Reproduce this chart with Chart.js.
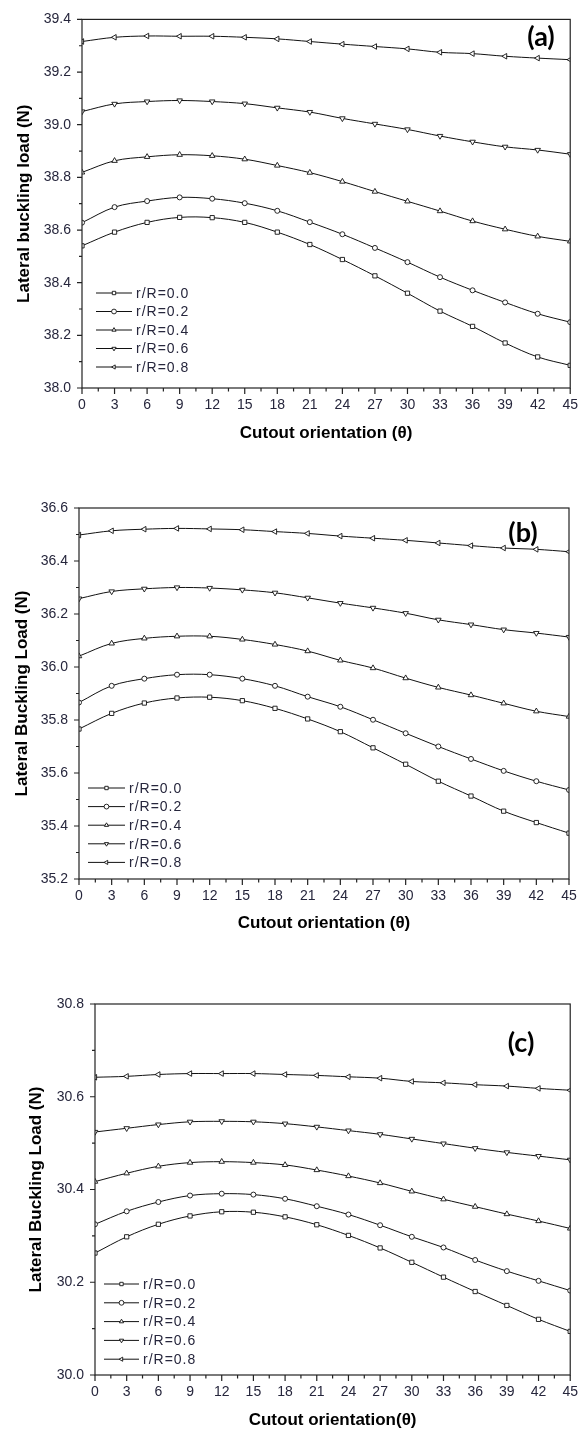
<!DOCTYPE html>
<html lang="en">
<head>
<meta charset="UTF-8">
<title>Lateral buckling load vs cutout orientation</title>
<script src="https://cdn.jsdelivr.net/npm/chart.js"></script>
<style>
  body { margin: 0; padding: 0; background: #fff; width: 587px; height: 1429px; position: relative; overflow: hidden; }
  canvas { position: absolute; left: 0; }
  #chartA { top: 0; }
  #chartB { top: 460px; }
  #chartC { top: 960px; }
</style>
</head>
<body>
<canvas id="chartA" width="587" height="450"></canvas>
<canvas id="chartB" width="587" height="490"></canvas>
<canvas id="chartC" width="587" height="469"></canvas>
<script>
const theta = [0, 3, 6, 9, 12, 15, 18, 21, 24, 27, 30, 33, 36, 39, 42, 45];
const ratioLabels = ['r/R=0.0', 'r/R=0.2', 'r/R=0.4', 'r/R=0.6', 'r/R=0.8'];

// panel (a)
const a00 = [38.540, 38.592, 38.629, 38.648, 38.647, 38.629, 38.592, 38.545, 38.488, 38.426, 38.360, 38.292, 38.234, 38.171, 38.118, 38.086];
const a02 = [38.628, 38.687, 38.710, 38.724, 38.719, 38.702, 38.673, 38.630, 38.584, 38.532, 38.478, 38.421, 38.371, 38.325, 38.282, 38.250];
const a04 = [38.819, 38.863, 38.878, 38.886, 38.882, 38.869, 38.845, 38.818, 38.784, 38.746, 38.709, 38.672, 38.634, 38.603, 38.576, 38.557];
const a06 = [39.050, 39.079, 39.088, 39.092, 39.088, 39.080, 39.064, 39.048, 39.024, 39.003, 38.982, 38.957, 38.935, 38.916, 38.904, 38.888];
const a08 = [39.316, 39.332, 39.337, 39.336, 39.336, 39.332, 39.326, 39.316, 39.306, 39.297, 39.288, 39.275, 39.270, 39.260, 39.253, 39.247];

// panel (b)
const b00 = [35.766, 35.825, 35.864, 35.883, 35.886, 35.873, 35.844, 35.804, 35.756, 35.695, 35.633, 35.569, 35.513, 35.456, 35.413, 35.373];
const b02 = [35.866, 35.929, 35.956, 35.971, 35.971, 35.956, 35.929, 35.888, 35.850, 35.801, 35.750, 35.700, 35.653, 35.608, 35.569, 35.536];
const b04 = [36.041, 36.089, 36.108, 36.116, 36.116, 36.104, 36.085, 36.060, 36.025, 35.996, 35.958, 35.923, 35.894, 35.863, 35.833, 35.813];
const b06 = [36.258, 36.285, 36.295, 36.300, 36.298, 36.291, 36.280, 36.261, 36.241, 36.223, 36.203, 36.178, 36.160, 36.141, 36.128, 36.113];
const b08 = [36.498, 36.514, 36.520, 36.523, 36.521, 36.518, 36.511, 36.504, 36.494, 36.486, 36.478, 36.468, 36.458, 36.449, 36.444, 36.435];

// panel (c)
const c00 = [30.263, 30.298, 30.325, 30.343, 30.352, 30.351, 30.341, 30.324, 30.301, 30.274, 30.243, 30.211, 30.180, 30.150, 30.120, 30.094];
const c02 = [30.325, 30.353, 30.373, 30.387, 30.391, 30.389, 30.380, 30.364, 30.346, 30.323, 30.298, 30.275, 30.248, 30.224, 30.203, 30.182];
const c04 = [30.417, 30.435, 30.450, 30.458, 30.460, 30.458, 30.453, 30.442, 30.429, 30.414, 30.396, 30.379, 30.363, 30.347, 30.332, 30.316];
const c06 = [30.524, 30.532, 30.540, 30.546, 30.547, 30.546, 30.542, 30.535, 30.527, 30.519, 30.509, 30.499, 30.489, 30.480, 30.472, 30.464];
const c08 = [30.642, 30.644, 30.648, 30.650, 30.650, 30.650, 30.648, 30.646, 30.643, 30.640, 30.633, 30.630, 30.626, 30.623, 30.618, 30.614];

Chart.defaults.font.family = "'Liberation Sans', Arial, sans-serif";

const ink = '#111';
const labelInk = '#26263c';
const titleSize = 17;
const markers = [
    { style: 'rect', rot: 0, r: 3 },
    { style: 'circle', rot: 0, r: 2.5 },
    { style: 'triangle', rot: 0, r: 3.2 },
    { style: 'triangle', rot: 180, r: 3.2 },
    { style: 'triangle', rot: 270, r: 3.2 }
];

// same shapes as chart.js points, for the legend
function drawMarker(ctx, m, x, y, r) {
    ctx.beginPath();
    if (m.style === 'rect') {
        const s = r * Math.SQRT1_2;
        ctx.rect(x - s, y - s, 2 * s, 2 * s);
    } else if (m.style === 'circle') {
        ctx.arc(x, y, r, 0, Math.PI * 2);
    } else {
        let a = m.rot * Math.PI / 180;
        for (let k = 0; k < 3; k++) {
            const px = x + Math.sin(a) * r, py = y - Math.cos(a) * r;
            k === 0 ? ctx.moveTo(px, py) : ctx.lineTo(px, py);
            a += Math.PI * 2 / 3;
        }
        ctx.closePath();
    }
    ctx.fillStyle = '#fff';
    ctx.fill();
    ctx.strokeStyle = ink;
    ctx.lineWidth = 0.9;
    ctx.stroke();
}

function panelDecor(box) {
    return {
        id: 'panelDecor',
        afterDraw(chart) {
            const { ctx, chartArea: ca } = chart;
            const xs = chart.scales.x, ys = chart.scales.y;
            ctx.save();
            // frame
            ctx.strokeStyle = '#222';
            ctx.lineWidth = 1.2;
            ctx.strokeRect(ca.left, ca.top, ca.right - ca.left, ca.bottom - ca.top);
            // outward ticks, major + minor
            ctx.beginPath();
            const nY = Math.round((ys.max - ys.min) / 0.1);
            for (let k = 0; k <= nY; k++) {
                const py = ys.getPixelForValue(ys.min + k * 0.1);
                const len = k % 2 === 0 ? 5 : 3;
                ctx.moveTo(ca.left - len, py);
                ctx.lineTo(ca.left, py);
            }
            for (let k = 0; k <= 30; k++) {
                const px = xs.getPixelForValue(k * 1.5);
                const len = k % 2 === 0 ? 6 : 3.5;
                ctx.moveTo(px, ca.bottom);
                ctx.lineTo(px, ca.bottom + len);
            }
            ctx.stroke();
            // legend: line with marker
            ctx.font = "14px 'Liberation Sans', Arial, sans-serif";
            ctx.letterSpacing = '1px';
            ctx.textBaseline = 'middle';
            chart.data.datasets.forEach((ds, i) => {
                const y = box.legY + i * box.legDy;
                ctx.beginPath();
                ctx.strokeStyle = ink;
                ctx.lineWidth = 1;
                ctx.moveTo(box.legX1, y);
                ctx.lineTo(box.legX2, y);
                ctx.stroke();
                drawMarker(ctx, markers[i], (box.legX1 + box.legX2) / 2, y, 2.4);
                ctx.fillStyle = labelInk;
                ctx.fillText(ds.label, box.legX2 + 4, y + 1);
            });
            ctx.letterSpacing = '0px';
            // panel tag
            ctx.font = "bold 27px Lato, 'Open Sans', sans-serif";
            ctx.fillStyle = '#000';
            ctx.textAlign = 'center';
            ctx.fillText(box.tag, box.tagX, box.tagY);
            ctx.restore();
        }
    };
}

function drawPanel(id, series, yMin, yMax, yTitle, xTitle, box) {
    const canvas = document.getElementById(id);
    const W = canvas.width, H = canvas.height;
    const titleLH = titleSize * 1.2;
    const padLeft = box.yTitleX - titleLH / 2;
    const padBottom = H - box.xTitleY - titleLH / 2;

    const datasets = series.map((vals, i) => ({
        label: ratioLabels[i],
        data: theta.map((t, j) => ({ x: t, y: vals[j] })),
        borderColor: ink,
        borderWidth: 1,
        tension: 0.35,
        fill: false,
        pointStyle: markers[i].style,
        pointRotation: markers[i].rot,
        pointRadius: markers[i].r,
        pointBackgroundColor: '#fff',
        pointBorderColor: ink,
        pointBorderWidth: 0.9
    }));

    new Chart(canvas, {
        type: 'line',
        data: { datasets: datasets },
        options: {
            responsive: false,
            animation: false,
            layout: { padding: { left: padLeft, top: box.t, right: W - box.r, bottom: padBottom } },
            plugins: { legend: { display: false }, tooltip: { enabled: false } },
            scales: {
                x: {
                    type: 'linear', min: 0, max: 45,
                    grid: { display: false, drawTicks: false },
                    border: { display: false },
                    ticks: { stepSize: 3, padding: 9, color: labelInk, font: { size: 14 }, maxRotation: 0 },
                    title: { display: true, text: xTitle, color: '#000', padding: 0, font: { size: titleSize, weight: 'bold' } },
                    afterFit: s => { s.height = H - padBottom - box.b; }
                },
                y: {
                    type: 'linear', min: yMin, max: yMax,
                    grid: { display: false, drawTicks: false },
                    border: { display: false },
                    ticks: { stepSize: 0.2, padding: 11, color: labelInk, font: { size: 14 },
                             callback: v => v.toFixed(1) },
                    title: { display: true, text: yTitle, color: '#000', padding: 0, font: { size: titleSize, weight: 'bold' } },
                    afterFit: s => { s.width = box.l - padLeft; }
                }
            }
        },
        plugins: [panelDecor(box)]
    });
}

drawPanel('chartA', [a00, a02, a04, a06, a08], 38.0, 39.4,
    'Lateral buckling load (N)', 'Cutout orientation (\u03b8)',
    { l: 82, r: 572, t: 16, b: 388, xTitleY: 433, yTitleX: 24,
      legX1: 96, legX2: 132, legY: 293, legDy: 18.5, tag: '(a)', tagX: 541, tagY: 37 });

drawPanel('chartB', [b00, b02, b04, b06, b08], 35.2, 36.6,
    'Lateral Buckling Load (N)', 'Cutout orientation (\u03b8)',
    { l: 79, r: 569, t: 48, b: 419, xTitleY: 463, yTitleX: 22,
      legX1: 88, legX2: 125, legY: 328, legDy: 18.6, tag: '(b)', tagX: 523, tagY: 73 });

drawPanel('chartC', [c00, c02, c04, c06, c08], 30.0, 30.8,
    'Lateral Buckling Load (N)', 'Cutout orientation(\u03b8)',
    { l: 95, r: 573, t: 44, b: 415, xTitleY: 460, yTitleX: 36,
      legX1: 104, legX2: 139, legY: 324, legDy: 18.8, tag: '(c)', tagX: 521, tagY: 83 });
</script>
</body>
</html>
